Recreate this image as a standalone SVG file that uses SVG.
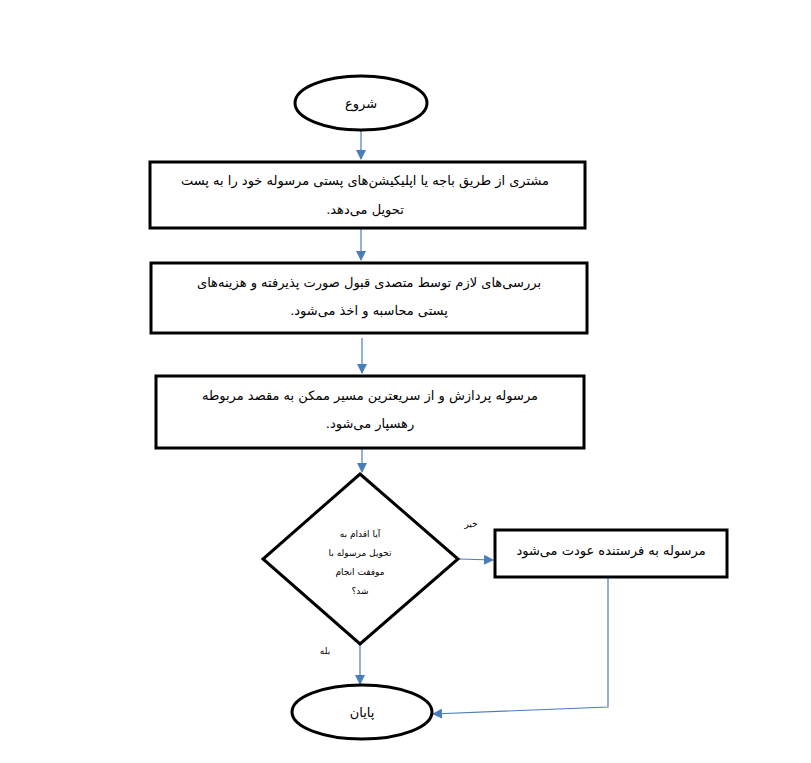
<svg xmlns="http://www.w3.org/2000/svg" width="811" height="763" viewBox="0 0 811 763">
<style>
.s{fill:#fff;stroke:#000;stroke-width:3}
.t{font-family:"DejaVu Sans",sans-serif;font-size:13px;fill:#000;text-anchor:middle;direction:rtl}
.sm{font-size:9px}
.c{stroke:#4a7ebb;stroke-width:1.2;fill:none}
</style>
<defs><marker id="a" markerWidth="10" markerHeight="10" refX="9" refY="5" orient="auto" markerUnits="userSpaceOnUse"><path d="M0,0 L10,5 L0,10 z" fill="#4a7ebb"/></marker></defs>
<rect width="811" height="763" fill="#fff"/>
<g id="connectors">
<line class="c" x1="361" y1="130" x2="361" y2="159" marker-end="url(#a)"/>
<line class="c" x1="361" y1="229" x2="361" y2="260" marker-end="url(#a)"/>
<line class="c" x1="362" y1="338" x2="362" y2="373" marker-end="url(#a)"/>
<line class="c" x1="362" y1="449" x2="362" y2="472" marker-end="url(#a)"/>
<line class="c" x1="459" y1="559" x2="493" y2="560" marker-end="url(#a)"/>
<line class="c" x1="360" y1="645" x2="360" y2="684" marker-end="url(#a)"/>
<polyline class="c" points="608,578 608,707 433,714" marker-end="url(#a)"/>
<text class="t sm" x="471" y="527">خیر</text>
<text class="t sm" x="325" y="654">بله</text>
</g>
<g id="start"><ellipse class="s" cx="361" cy="103" rx="66" ry="27"/><text class="t" x="361" y="108">شروع</text></g>
<g id="n1"><rect class="s" x="150" y="162" width="435" height="66"/><text class="t" x="365" y="185">مشتری از طریق باجه یا اپلیکیشن‌های پستی مرسوله خود را به پست</text><text class="t" x="365" y="214">تحویل می‌دهد.</text></g>
<g id="n2"><rect class="s" x="151" y="263" width="436" height="70"/><text class="t" x="369" y="287">بررسی‌های لازم توسط متصدی قبول صورت پذیرفته و هزینه‌های</text><text class="t" x="369" y="315">پستی محاسبه و اخذ می‌شود.</text></g>
<g id="n3"><rect class="s" x="156" y="376" width="428" height="72"/><text class="t" x="370" y="400">مرسوله پردازش و از سریعترین مسیر ممکن به مقصد مربوطه</text><text class="t" x="370" y="428">رهسپار می‌شود.</text></g>
<g id="d"><polygon class="s" points="360,474 458,559 360,644 263,559"/>
<text class="t sm" x="360" y="537">آیا اقدام به</text><text class="t sm" x="360" y="556">تحویل مرسوله با</text><text class="t sm" x="360" y="575">موفقت انجام</text><text class="t sm" x="360" y="594">شد؟</text></g>
<g id="n4"><rect class="s" x="495" y="530" width="232" height="47"/><text class="t" x="611" y="555">مرسوله به فرستنده عودت می‌شود</text></g>
<g id="end"><ellipse class="s" cx="362" cy="712" rx="70" ry="27"/><text class="t" x="362" y="717">پایان</text></g>
</svg>
